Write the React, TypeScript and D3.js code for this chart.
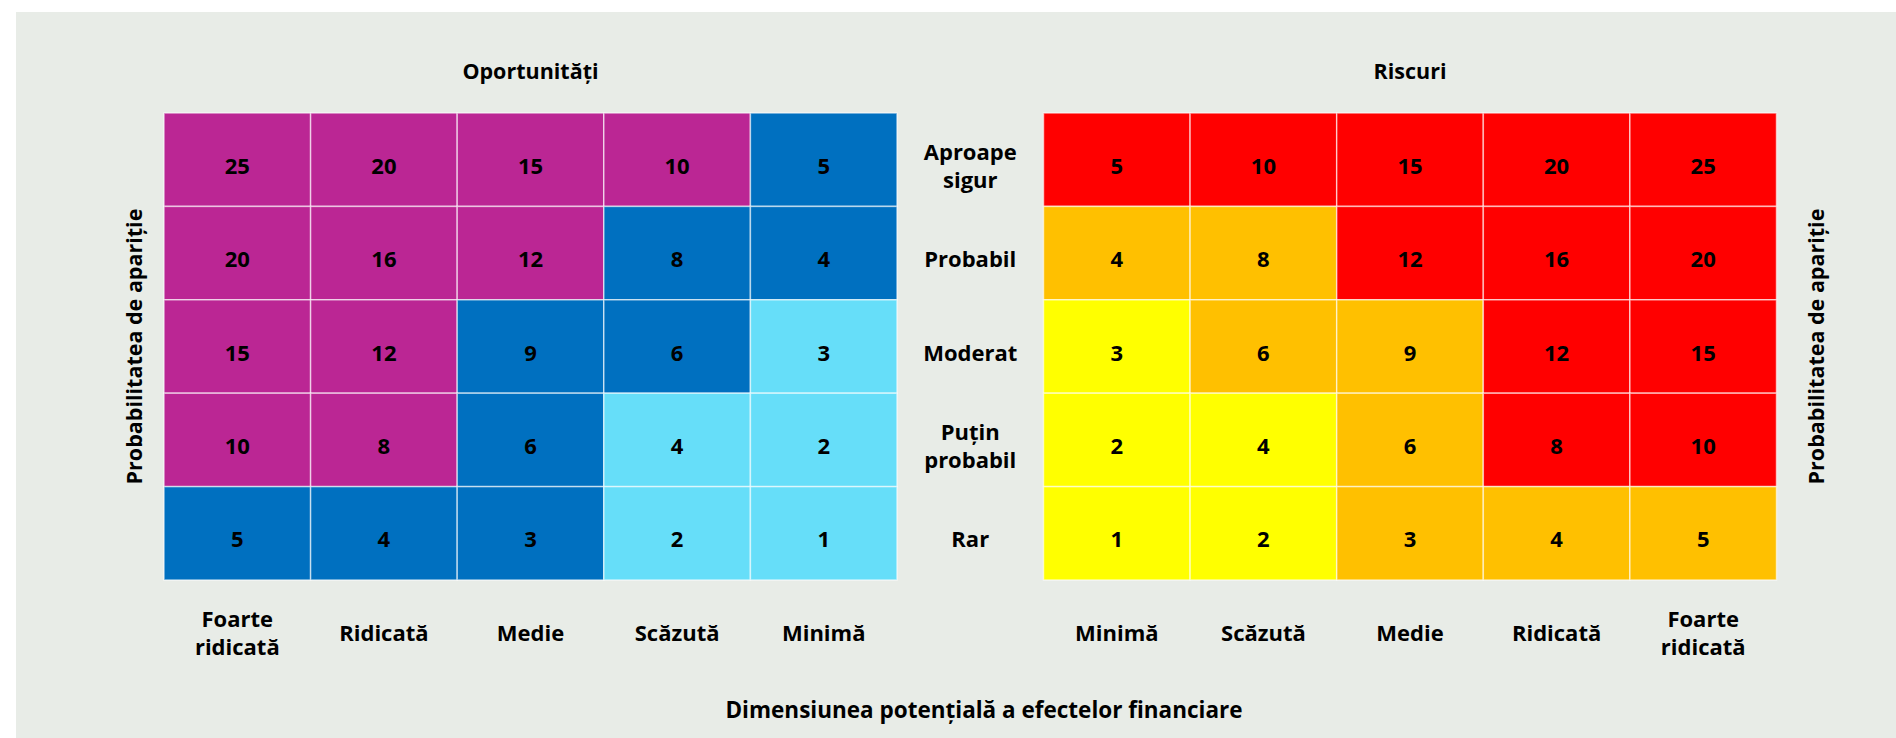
import { useEffect, useRef } from 'react';
import * as d3 from 'd3';

// probability rows, top to bottom
const probabilityLabels = ['Aproape\nsigur', 'Probabil', 'Moderat', 'Puțin\nprobabil', 'Rar'];

const opportunityColumns = ['Foarte\nridicată', 'Ridicată', 'Medie', 'Scăzută', 'Minimă'];
const riskColumns = ['Minimă', 'Scăzută', 'Medie', 'Ridicată', 'Foarte\nridicată'];

const opportunityValues = [
  [25, 20, 15, 10, 5],
  [20, 16, 12, 8, 4],
  [15, 12, 9, 6, 3],
  [10, 8, 6, 4, 2],
  [5, 4, 3, 2, 1],
];

// h = high, m = medium, l = low
const opportunityLevels = [
  ['h', 'h', 'h', 'h', 'm'],
  ['h', 'h', 'h', 'm', 'm'],
  ['h', 'h', 'm', 'm', 'l'],
  ['h', 'h', 'm', 'l', 'l'],
  ['m', 'm', 'm', 'l', 'l'],
];

const riskValues = [
  [5, 10, 15, 20, 25],
  [4, 8, 12, 16, 20],
  [3, 6, 9, 12, 15],
  [2, 4, 6, 8, 10],
  [1, 2, 3, 4, 5],
];

const riskLevels = [
  ['h', 'h', 'h', 'h', 'h'],
  ['m', 'm', 'h', 'h', 'h'],
  ['l', 'm', 'm', 'h', 'h'],
  ['l', 'l', 'm', 'h', 'h'],
  ['l', 'l', 'm', 'm', 'm'],
];

const W = 1896;
const H = 738;
const FONT = '"Open Sans", sans-serif';
const FS = 22;

export default function App() {
  const ref = useRef<SVGSVGElement>(null);

  useEffect(() => {
    if (!ref.current) return;
    const svg = d3.select(ref.current);
    svg.selectAll('*').remove();

    svg.append('rect')
      .attr('x', 16).attr('y', 12)
      .attr('width', W - 16).attr('height', H - 12)
      .attr('fill', '#e8ece7');

    const gridTop = 113;
    const gridBottom = 580;
    const leftX: [number, number] = [164, 897];
    const rightX: [number, number] = [1043.5, 1776.5];
    const lineH = 28;

    const y = d3.scaleBand<number>()
      .domain(d3.range(probabilityLabels.length))
      .range([gridTop, gridBottom]);

    const oppColor = d3.scaleOrdinal<string, string>()
      .domain(['h', 'm', 'l'])
      .range(['#bb2694', '#0070c0', '#66def9']);
    const riskColor = d3.scaleOrdinal<string, string>()
      .domain(['h', 'm', 'l'])
      .range(['#ff0000', '#ffc000', '#ffff00']);

    const multiline = (
      g: d3.Selection<SVGGElement, unknown, null, undefined>,
      label: string, cx: number, baseline: number
    ) => {
      const lines = label.split('\n');
      const t = g.append('text')
        .attr('text-anchor', 'middle')
        .attr('font-family', FONT)
        .attr('font-weight', 700)
        .attr('font-size', FS)
        .attr('fill', '#000');
      lines.forEach((l, i) => {
        t.append('tspan')
          .attr('x', cx)
          .attr('y', baseline + (i - (lines.length - 1) / 2) * lineH)
          .text(l);
      });
    };

    const drawGrid = (
      range: [number, number], columns: string[], values: number[][],
      levels: string[][], color: d3.ScaleOrdinal<string, string>, title: string
    ) => {
      const x = d3.scaleBand<number>().domain(d3.range(columns.length)).range(range);
      const g = svg.append('g');

      const cells = values.flatMap((row, r) => row.map((v, c) => ({ r, c, v, lvl: levels[r][c] })));

      g.selectAll('rect.cell')
        .data(cells)
        .enter()
        .append('rect')
        .attr('class', 'cell')
        .attr('x', d => x(d.c)!)
        .attr('y', d => y(d.r)!)
        .attr('width', x.bandwidth())
        .attr('height', y.bandwidth())
        .attr('fill', d => color(d.lvl))
        .attr('stroke', 'rgba(255,255,255,0.6)')
        .attr('stroke-width', 1.5);

      g.selectAll('text.val')
        .data(cells)
        .enter()
        .append('text')
        .attr('class', 'val')
        .attr('x', d => x(d.c)! + x.bandwidth() / 2)
        .attr('y', d => y(d.r)! + y.bandwidth() / 2 + 14)
        .attr('text-anchor', 'middle')
        .attr('font-family', FONT)
        .attr('font-weight', 700)
        .attr('font-size', FS)
        .text(d => d.v);

      columns.forEach((c, i) => multiline(g, c, x(i)! + x.bandwidth() / 2, 641));

      g.append('text')
        .attr('x', (range[0] + range[1]) / 2)
        .attr('y', 79)
        .attr('text-anchor', 'middle')
        .attr('font-family', FONT)
        .attr('font-weight', 700)
        .attr('font-size', 21.5)
        .text(title);
    };

    drawGrid(leftX, opportunityColumns, opportunityValues, opportunityLevels, oppColor, 'Oportunități');
    drawGrid(rightX, riskColumns, riskValues, riskLevels, riskColor, 'Riscuri');

    const mid = svg.append('g');
    probabilityLabels.forEach((l, i) =>
      multiline(mid, l, (leftX[1] + rightX[0]) / 2, y(i)! + y.bandwidth() / 2 + 14));

    // vertical axis labels (baseline x)
    [142, 1824].forEach(bx => {
      svg.append('text')
        .attr('transform', `translate(${bx},${(gridTop + gridBottom) / 2}) rotate(-90)`)
        .attr('text-anchor', 'middle')
        .attr('font-family', FONT)
        .attr('font-weight', 700)
        .attr('font-size', 21.5)
        .text('Probabilitatea de apariție');
    });

    svg.append('text')
      .attr('x', 984)
      .attr('y', 718)
      .attr('text-anchor', 'middle')
      .attr('font-family', FONT)
      .attr('font-weight', 700)
      .attr('font-size', 22.5)
      .text('Dimensiunea potențială a efectelor financiare');
  }, []);

  return (
    <svg
      ref={ref}
      width={W}
      height={H}
      style={{ position: 'absolute', left: 0, top: 0, display: 'block' }}
    />
  );
}
